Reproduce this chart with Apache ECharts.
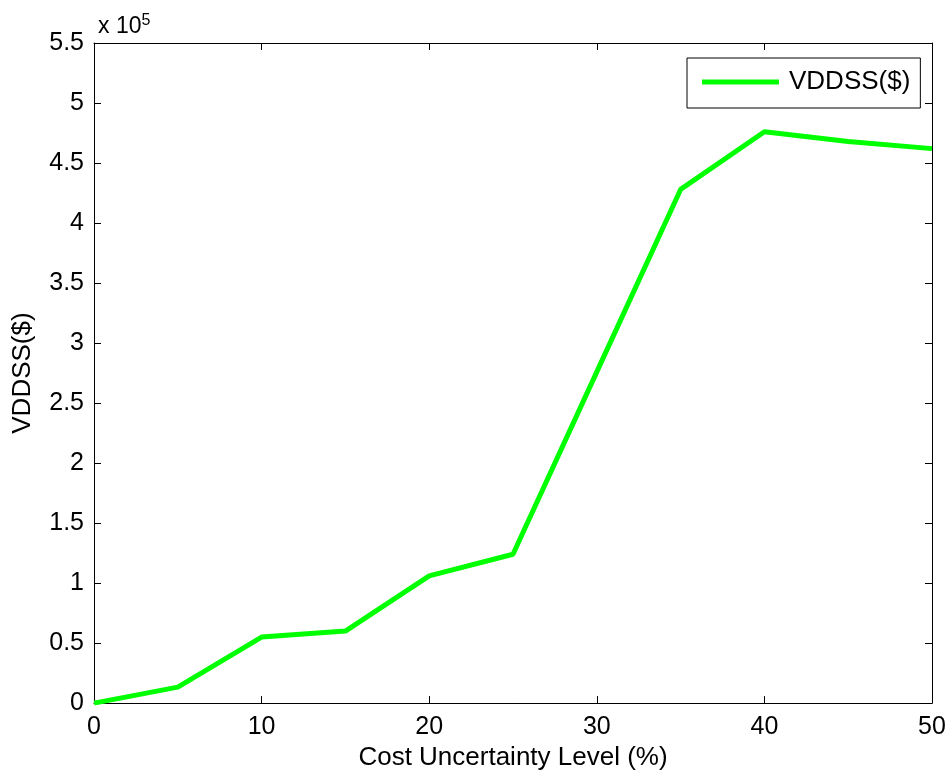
<!DOCTYPE html>
<html><head><meta charset="utf-8">
<script src="https://cdn.jsdelivr.net/npm/echarts@6/dist/echarts.min.js"></script>
<style>html,body{margin:0;padding:0;background:#fff}#c{width:950px;height:776px}</style>
</head><body><div id="c"></div>
<script>
const xValues = [0, 5, 10, 15, 20, 25, 30, 35, 40, 45, 50];
const vddss = [0, 13300, 55000, 60000, 106000, 124000, 276000, 428000, 476000, 468000, 462000];
const seriesName = 'VDDSS($)';
const xTitle = 'Cost Uncertainty Level (%)';
const yTitle = 'VDDSS($)';

const font = 'Liberation Sans, Arial, sans-serif';
const chart = echarts.init(document.getElementById('c'));
const axisCommon = {
  axisLine: {show: true, onZero: false, lineStyle: {color: '#000', width: 1}},
  axisTick: {show: true, inside: true, length: 7, lineStyle: {color: '#000'}},
  splitLine: {show: false}
};
chart.setOption({
  animation: false,
  backgroundColor: '#fff',
  grid: {left: 94, right: 18, top: 43, bottom: 71},
  title: {
    text: 'x 10{s|5}', left: 93, top: 8,
    textStyle: {fontFamily: font, fontSize: 23, fontWeight: 'normal', color: '#000',
      rich: {s: {fontFamily: font, fontSize: 16, verticalAlign: 'top', padding: [0,0,12,0], color: '#000'}}}
  },
  legend: {
    left: 687, top: 58, orient: 'vertical',
    itemWidth: 77, itemHeight: 5, itemGap: 0,
    padding: [11, 10, 13, 15],
    borderColor: '#000', borderWidth: 1, backgroundColor: '#fff',
    textStyle: {fontFamily: font, fontSize: 26, lineHeight: 26, color: '#000', padding: [0, 0, 0, 5]},
    data: [{name: seriesName, icon: 'rect'}]
  },
  xAxis: [
    Object.assign({}, axisCommon, {
      type: 'value', min: 0, max: 50, interval: 10, position: 'bottom',
      name: xTitle, nameLocation: 'middle', nameGap: 41,
      nameTextStyle: {fontFamily: font, fontSize: 26, color: '#000'},
      axisLabel: {fontFamily: font, fontSize: 25, color: '#000', margin: 12}
    }),
    Object.assign({}, axisCommon, {
      type: 'value', min: 0, max: 50, interval: 10, position: 'top',
      axisLabel: {show: false}
    })
  ],
  yAxis: [
    Object.assign({}, axisCommon, {
      type: 'value', min: 0, max: 550000, interval: 50000, position: 'left',
      name: yTitle, nameLocation: 'middle', nameGap: 58,
      nameTextStyle: {fontFamily: font, fontSize: 26, color: '#000'},
      axisLabel: {fontFamily: font, fontSize: 25, color: '#000', margin: 10,
        formatter: v => String(+(v / 1e5).toFixed(1))}
    }),
    Object.assign({}, axisCommon, {
      type: 'value', min: 0, max: 550000, interval: 50000, position: 'right',
      axisLabel: {show: false}
    })
  ],
  series: [{
    name: seriesName, type: 'line',
    data: xValues.map((x, i) => [x, vddss[i]]),
    showSymbol: false, symbol: 'none',
    lineStyle: {color: '#00ff00', width: 5},
    itemStyle: {color: '#00ff00'}
  }]
});
</script></body></html>
